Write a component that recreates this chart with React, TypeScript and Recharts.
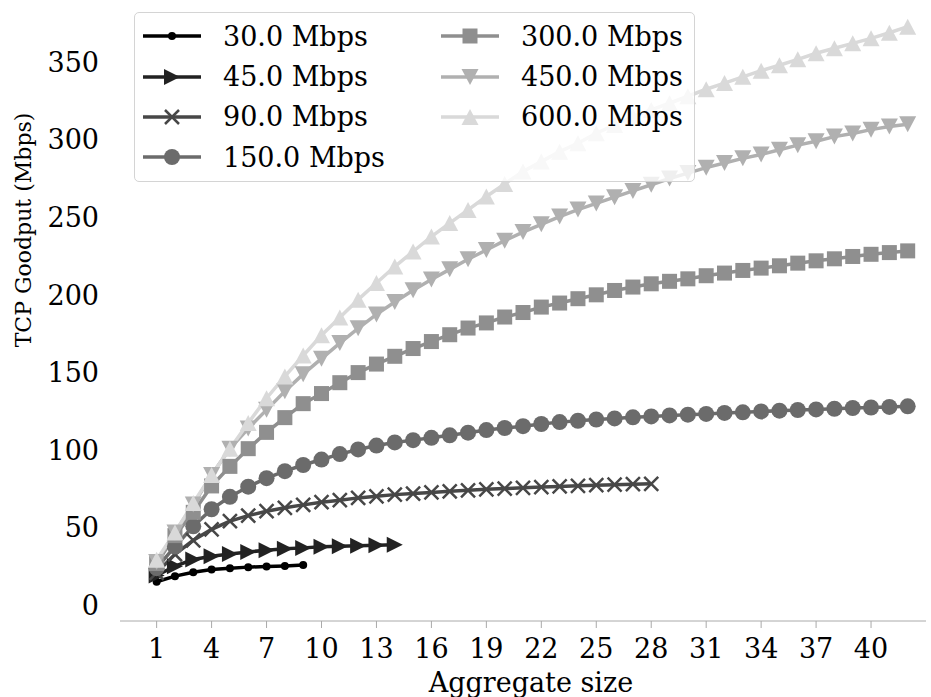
import React from "react";
import { LineChart, Line, XAxis, YAxis, Legend } from "recharts";

// aggregate sizes on the x axis
const aggregateSizes = [
  1, 2, 3, 4, 5, 6, 7, 8, 9, 10, 11, 12, 13, 14, 15, 16, 17, 18, 19, 20, 21,
  22, 23, 24, 25, 26, 27, 28, 29, 30, 31, 32, 33, 34, 35, 36, 37, 38, 39, 40,
  41, 42,
];

// TCP goodput (Mbps) per link rate, starting at aggregate size 1
const goodput30 = [15.3, 18.9, 21.4, 23.2, 24.0, 24.7, 25.1, 25.5, 26.0];
const goodput45 = [
  19.3, 25.3, 29.6, 31.7, 33.2, 34.5, 35.6, 36.5, 37.1, 37.8, 38.2, 38.5, 38.8,
  39.1,
];
const goodput90 = [
  21, 33, 42, 49, 54.3, 57.9, 60.7, 62.9, 64.8, 66.5, 67.8, 69.3, 70.3, 71.4,
  72.1, 72.8, 73.5, 74.2, 74.8, 75.3, 75.8, 76.3, 76.7, 77.1, 77.5, 77.8, 78.1,
  78.4,
];
const goodput150 = [
  24, 38, 51, 62, 70, 76.5, 82, 86.5, 90.5, 94, 97.5, 100.5, 103, 105, 106.5,
  108, 109.6, 111.3, 113, 114.3, 115.5, 116.9, 118.1, 119, 119.8, 120.5, 121.2,
  121.8, 122.4, 122.9, 123.4, 124, 124.4, 125, 125.5, 125.9, 126.3, 126.7,
  127.2, 127.5, 127.9, 128.3,
];
const goodput300 = [
  27, 45, 60, 77, 89.6, 101, 111.5, 121, 130, 136.5, 143.5, 150, 155.5, 160.5,
  165.5, 170, 174.4, 178.7, 182, 185.8, 188.7, 192.2, 194.8, 197.6, 200.1,
  202.9, 205.1, 207.2, 208.8, 210.4, 212.4, 214.1, 215.8, 217.3, 218.8, 220.5,
  222, 223.3, 224.8, 226.2, 227.3, 228.4,
];
const goodput450 = [
  28, 47, 65, 84, 101, 114, 126, 138, 149, 159, 169, 178.5, 187.5, 195.5, 203,
  210, 216.5, 223, 229, 235, 240.5, 245.5, 250.5, 255, 259, 263, 267, 271, 275,
  278.5, 282, 285, 288, 290.5, 293.5, 296.5, 299, 302, 304, 306.5, 308.5, 310,
];
const goodput600 = [
  29.5, 47, 66, 84, 101, 117.5, 133.5, 147.5, 161, 174, 185.5, 197, 207.7,
  218.3, 228, 237.6, 246.3, 254.8, 263.4, 271.5, 279.5, 285.9, 292.3, 297.7,
  304.2, 309.5, 314.9, 319.2, 323.5, 328, 332.5, 336.5, 340.5, 344.5, 348,
  351.8, 355.7, 358.9, 362.1, 365.3, 368.9, 372.8,
];

const xTicks = [1, 4, 7, 10, 13, 16, 19, 22, 25, 28, 31, 34, 37, 40];
const yTicks = [0, 50, 100, 150, 200, 250, 300, 350];

const FONT = "'DejaVu Serif', serif";

type Shape = "dot" | "right" | "x" | "circle" | "square" | "down" | "up";

const series: { name: string; values: number[]; color: string; shape: Shape }[] = [
  { name: "30.0 Mbps", values: goodput30, color: "#000000", shape: "dot" },
  { name: "45.0 Mbps", values: goodput45, color: "#222222", shape: "right" },
  { name: "90.0 Mbps", values: goodput90, color: "#474747", shape: "x" },
  { name: "150.0 Mbps", values: goodput150, color: "#6b6b6b", shape: "circle" },
  { name: "300.0 Mbps", values: goodput300, color: "#8f8f8f", shape: "square" },
  { name: "450.0 Mbps", values: goodput450, color: "#b0b0b0", shape: "down" },
  { name: "600.0 Mbps", values: goodput600, color: "#d9d9d9", shape: "up" },
];

const Marker = ({ shape, cx, cy, color }: { shape: Shape; cx: number; cy: number; color: string }) => {
  if (cx == null || cy == null) return <g />;
  switch (shape) {
    case "dot":
      return <circle cx={cx} cy={cy} r={4} fill={color} />;
    case "right":
      return <polygon points={`${cx + 8},${cy} ${cx - 8},${cy - 8} ${cx - 8},${cy + 8}`} fill={color} />;
    case "x":
      return (
        <path
          d={`M${cx - 7},${cy - 7}L${cx + 7},${cy + 7}M${cx - 7},${cy + 7}L${cx + 7},${cy - 7}`}
          stroke={color}
          strokeWidth={2.5}
          fill="none"
        />
      );
    case "circle":
      return <circle cx={cx} cy={cy} r={8} fill={color} />;
    case "square":
      return <rect x={cx - 7.5} y={cy - 7.5} width={15} height={15} fill={color} />;
    case "down":
      return <polygon points={`${cx - 8.5},${cy - 8} ${cx + 8.5},${cy - 8} ${cx},${cy + 8}`} fill={color} />;
    default:
      return <polygon points={`${cx},${cy - 8} ${cx - 8.5},${cy + 8} ${cx + 8.5},${cy + 8}`} fill={color} />;
  }
};

// matplotlib-like legend box, two columns
const renderLegend = () => {
  const rowY = [23, 63.5, 103.5, 144];
  return (
    <div
      style={{
        width: 561,
        height: 170,
        boxSizing: "border-box",
        border: "1.5px solid #d4d4d4",
        borderRadius: 5,
        background: "rgba(255,255,255,0.8)",
        position: "relative",
        fontFamily: FONT,
      }}
    >
      {series.map((s, i) => {
        const col = i < 4 ? 0 : 1;
        const row = i < 4 ? i : i - 4;
        return (
          <div
            key={s.name}
            style={{
              position: "absolute",
              left: col === 0 ? 8 : 306,
              top: rowY[row] - 20,
              height: 40,
              display: "flex",
              alignItems: "center",
              whiteSpace: "nowrap",
            }}
          >
            <svg width={58} height={40}>
              <line x1={0} y1={20} x2={58} y2={20} stroke={s.color} strokeWidth={3.5} />
              <Marker shape={s.shape} cx={29} cy={20} color={s.color} />
            </svg>
            <span style={{ marginLeft: 22, fontSize: 27, lineHeight: 1, color: "#000" }}>{s.name}</span>
          </div>
        );
      })}
    </div>
  );
};

export default function App() {
  return (
    <div style={{ position: "absolute", left: 0, top: 0, background: "#fff" }}>
      <LineChart width={931} height={697} margin={{ top: 0, right: 5, left: 0, bottom: 0 }}>
        <XAxis
          type="number"
          dataKey="size"
          domain={[-1, 43]}
          ticks={xTicks}
          allowDuplicatedCategory={false}
          height={76}
          stroke="#aaaaaa"
          tickSize={7}
          tickMargin={11}
          tick={{ fill: "#000", fontSize: 27, fontFamily: FONT }}
          label={{
            content: () => (
              <text x={531} y={692} textAnchor="middle" fontSize={27} fontFamily={FONT} fill="#000">
                Aggregate size
              </text>
            ),
          }}
        />
        <YAxis
          type="number"
          domain={[-10, 390]}
          ticks={yTicks}
          width={120}
          axisLine={false}
          tickLine={false}
          tickSize={0}
          tickMargin={21}
          tick={{ fill: "#000", fontSize: 27, fontFamily: FONT }}
          label={{
            content: () => (
              <text
                x={23}
                y={230}
                transform="rotate(-90 23 230)"
                textAnchor="middle"
                dominantBaseline="central"
                fontSize={22}
                fontFamily={FONT}
                fill="#000"
              >
                TCP Goodput (Mbps)
              </text>
            ),
          }}
        />
        {series.map((s) => (
          <Line
            key={s.name}
            name={s.name}
            data={s.values.map((v, i) => ({ size: aggregateSizes[i], value: v }))}
            dataKey="value"
            type="linear"
            stroke={s.color}
            strokeWidth={3.5}
            dot={(p: any) => <Marker key={p.index} shape={s.shape} cx={p.cx} cy={p.cy} color={s.color} />}
            activeDot={false}
            isAnimationActive={false}
          />
        ))}
        <Legend
          layout="vertical"
          align="center"
          verticalAlign="middle"
          content={renderLegend}
          wrapperStyle={{ left: 134, top: 12, width: 561, height: 170 }}
        />
      </LineChart>
    </div>
  );
}
